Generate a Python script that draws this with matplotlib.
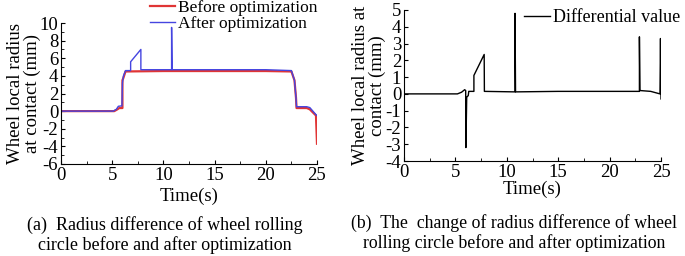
import matplotlib.pyplot as plt
import numpy as np

plt.rcParams['font.family'] = ['Liberation Serif', 'DejaVu Serif']
plt.rcParams['axes.unicode_minus'] = False

# left panel: radius before / after optimization
t_before = [0, 5.2, 5.5, 5.7, 6.0, 6.0, 6.1, 6.3, 10, 15, 20, 22.5, 22.8, 22.95, 23.0, 24.0, 24.3, 24.9, 25.0]
r_before = [0, 0, 0.2, 0.35, 0.35, 3.5, 3.8, 4.5, 4.55, 4.55, 4.55, 4.5, 3.5, 1.5, 0.35, 0.35, 0.2, -0.5, -3.7]

t_after = [0, 5.1, 5.4, 5.6, 5.95, 6.0, 6.1, 6.3, 6.8, 6.8, 7.8, 7.8, 10.8, 10.8, 10.85, 15, 20, 22.5, 22.8,
           22.95, 23.0, 24.0, 24.3, 24.9, 25.0]
r_after = [0, 0, 0.2, 0.55, 0.6, 3.2, 4.0, 4.6, 4.6, 5.6, 7.0, 4.7, 4.7, 9.5, 4.7, 4.7, 4.7, 4.6, 3.5,
           1.5, 0.5, 0.5, 0.4, -0.4, -0.5]

# right panel: differential value
t_diff = [0, 5.2, 5.6, 5.9, 6.0, 6.02, 6.1, 6.25, 6.3, 6.8, 6.8, 7.8, 7.82, 10.8, 10.8, 10.85, 15, 20,
          22.9, 22.9, 22.95, 24.0, 24.9, 24.95, 25.0]
d_diff = [0, 0, 0.1, 0.25, 0.2, -3.2, -0.2, -0.1, 0.15, 0.15, 1.1, 2.35, 0.15, 0.12, 4.8, 0.12, 0.15, 0.15,
          0.15, 3.4, 0.2, 0.15, 0.0, 3.3, -0.3]

xticks = [0, 5, 10, 15, 20, 25]

fig = plt.figure(figsize=(6.85, 2.56), dpi=100)
W, H = 685, 256

ax1 = fig.add_axes([61 / W, (H - 164) / H, 256 / W, 141 / H])
ax1.plot(t_before, r_before, color='#e03535', lw=1.6, label='Before optimization')
ax1.plot(t_after, r_after, color='#4545e0', lw=1.0, label='After optimization')
ax1.set_xlim(0, 25)
ax1.set_ylim(-6, 10)
ax1.set_xticks(xticks)
ax1.set_yticks(np.arange(-6, 11, 2))
ax1.set_yticks(np.arange(-5, 10, 2), minor=True)
ax1.set_xlabel('Time(s)', fontsize=13.5, labelpad=3)
ax1.set_ylabel('Wheel local radius\nat contact (mm)', fontsize=13.5, linespacing=0.95, labelpad=-1)
ax1.legend(loc='upper left', bbox_to_anchor=(0.315, 1.225), frameon=False, fontsize=12.5,
           handlelength=1.4, handletextpad=0.2, labelspacing=0.0, borderpad=0)

ax2 = fig.add_axes([404 / W, (H - 161) / H, 257 / W, 151 / H])
ax2.plot(t_diff, d_diff, color='black', lw=1.0, label='Differential value')
ax2.set_xlim(0, 25)
ax2.set_ylim(-4, 5)
ax2.set_xticks(xticks)
ax2.set_yticks(np.arange(-4, 6, 1))
ax2.set_xlabel('Time(s)', fontsize=13.5, labelpad=0)
ax2.set_ylabel('Wheel local radius at\ncontact (mm)', fontsize=13.5, linespacing=0.95, labelpad=0)
ax2.legend(loc='upper left', bbox_to_anchor=(0.43, 1.066), frameon=False, fontsize=13,
           handlelength=1.45, handletextpad=0.2, borderpad=0)

for ax in (ax1, ax2):
    ax.spines['top'].set_visible(False)
    ax.spines['right'].set_visible(False)
    ax.tick_params(direction='in', length=3, labelsize=13.5, pad=2)
    ax.set_xticks([2.5, 7.5, 12.5, 17.5, 22.5], minor=True)
    ax.tick_params(which='minor', direction='in', length=2)

fig.text(165 / W, 1 - 235 / H, '(a)  Radius difference of wheel rolling\ncircle before and after optimization',
         ha='center', va='center', fontsize=13, linespacing=1.1)
fig.text(514 / W, 1 - 233 / H, '(b)  The  change of radius difference of wheel\nrolling circle before and after optimization',
         ha='center', va='center', fontsize=12.8, linespacing=1.1)

fig.savefig('out.png', dpi=100)
